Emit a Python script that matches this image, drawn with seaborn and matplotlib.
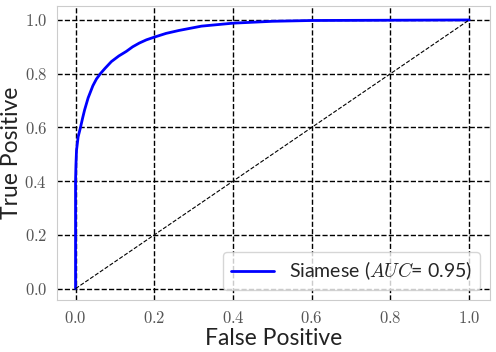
import numpy as np
import pandas as pd
import seaborn as sns
import matplotlib
matplotlib.use("Agg")
import matplotlib.pyplot as plt
from matplotlib.ticker import FuncFormatter

# ROC curve values
fpr = [0.0, 0.0, 0.001, 0.0025, 0.0066, 0.0126, 0.018, 0.023, 0.032, 0.044,
       0.053, 0.063, 0.075, 0.091, 0.11, 0.129, 0.145, 0.162, 0.18, 0.2,
       0.23, 0.263, 0.32, 0.4, 0.5, 0.6, 0.8, 1.0]
tpr = [0.0, 0.40, 0.46, 0.515, 0.565, 0.60, 0.635, 0.665, 0.71, 0.755,
       0.78, 0.80, 0.82, 0.845, 0.866, 0.883, 0.90, 0.914, 0.926, 0.936,
       0.95, 0.961, 0.977, 0.988, 0.995, 0.998, 0.999, 1.0]
auc_label = "Siamese ($AUC$= 0.95)"
diag = [0.0, 1.0]
ticks = [0.0, 0.2, 0.4, 0.6, 0.8, 1.0]

df = pd.DataFrame({"fpr": fpr, "tpr": tpr})

sns.set_style("whitegrid", {"grid.color": "black", "grid.linestyle": "--"})
plt.rcParams["font.family"] = ["Lato", "DejaVu Sans"]
plt.rcParams["mathtext.fontset"] = "cm"

fig, ax = plt.subplots(figsize=(4.96, 3.52), dpi=100)
fig.subplots_adjust(left=0.115, right=0.988, top=0.983, bottom=0.148)

sns.lineplot(data=df, x="fpr", y="tpr", color="blue", linewidth=2,
             label=auc_label, ax=ax, sort=False, estimator=None)
ax.plot(diag, diag, color="black", linestyle="--", linewidth=0.8)

ax.set_xlim(-0.047, 1.053)
ax.set_ylim(-0.042, 1.052)
ax.set_xticks(ticks)
ax.set_yticks(ticks)
fmt = FuncFormatter(lambda v, p: f"${v:.1f}$")
ax.xaxis.set_major_formatter(fmt)
ax.yaxis.set_major_formatter(fmt)
ax.tick_params(labelsize=12, colors="#555555")
ax.grid(True, color="black", linestyle="--", linewidth=1)
for s in ax.spines.values():
    s.set_color("#cccccc")

ax.set_xlabel("False Positive", fontsize=16.5, color="#222222", labelpad=2)
ax.set_ylabel("True Positive", fontsize=16.5, color="#222222", labelpad=2)

leg = ax.legend(loc="lower right", fontsize=14, frameon=True, handlelength=2.2)
leg.get_frame().set_edgecolor("#cccccc")

plt.savefig("out.png", dpi=100)
plt.close()
